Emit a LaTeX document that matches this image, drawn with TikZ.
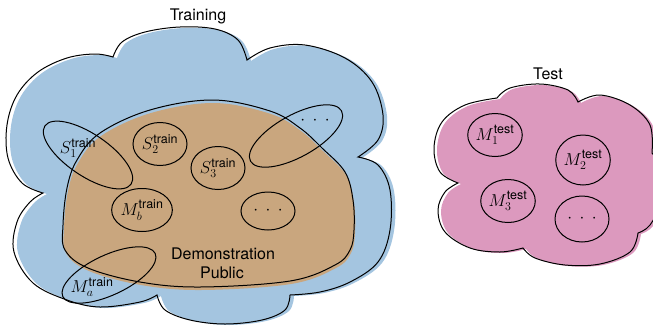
\documentclass[tikz,border=0pt]{standalone}
\usepackage{amsmath}
\usepackage{fontspec}
\setmainfont{TeX Gyre Heros}
\DeclareMathSizes{19}{19}{12.5}{9}
\usetikzlibrary{shapes.geometric}
\definecolor{trainblue}{RGB}{164,197,224}
\definecolor{demotan}{RGB}{201,166,126}
\definecolor{testpink}{RGB}{220,153,190}
\newcommand\TrainCloud{(113,57) -- plot[smooth,tension=0.6] coordinates {(113,57) (122,42) (145,32) (180,27) (215,29) (238,40) (247,60)}
 -- plot[smooth,tension=0.6] coordinates {(247,60) (270,48) (305,45) (345,58) (372,82) (383,115) (378,140) (358,157)}
 -- plot[smooth,tension=0.6] coordinates {(358,157) (378,165) (390,190) (390,230) (378,262) (350,282) (320,292) (290,295)}
 -- plot[smooth,tension=0.6] coordinates {(290,295) (285,310) (262,320) (225,324) (190,320) (165,310) (157,295)}
 -- plot[smooth,tension=0.6] coordinates {(157,295) (140,302) (100,307) (67,300) (33,283) (14,252) (17,222) (30,202) (43,193)}
 -- plot[smooth,tension=0.6] coordinates {(43,193) (22,183) (8,158) (7,125) (17,95) (38,72) (67,58) (95,54) (113,57)} -- cycle}
\newcommand\TestCloud{(458,183) -- plot[smooth,tension=0.6] coordinates {(458,183) (440,172) (434,148) (442,122) (465,105) (497,98)}
 -- plot[smooth,tension=0.6] coordinates {(497,98) (510,88) (540,84) (568,90) (578,102)}
 -- plot[smooth,tension=0.6] coordinates {(578,102) (600,95) (630,105) (650,125) (652,153)}
 -- plot[smooth,tension=0.6] coordinates {(652,153) (662,170) (662,200) (650,225) (638,233)}
 -- plot[smooth,tension=0.6] coordinates {(638,233) (630,252) (600,264) (565,265) (535,258) (523,248)}
 -- plot[smooth,tension=0.6] coordinates {(523,248) (500,252) (470,248) (445,232) (438,210) (445,192) (458,183)} -- cycle}
\newcommand\DomePath{plot[smooth cycle,tension=0.6] coordinates {(63,225) (67,188) (77,160) (100,133) (150,110) (213,100) (270,111) (300,128) (322,148) (345,172) (353,200) (354,230) (350,250) (335,265) (290,281) (200,287) (140,282) (88,268) (65,250)}}
\newcommand\tdots{$\cdot$\hspace{7.5pt}$\cdot$\hspace{7.5pt}$\cdot$}
\begin{document}
\begin{tikzpicture}[x=1pt,y=-1pt,line width=1pt,
  setshape/.style={ellipse,draw,inner sep=0pt,minimum width=54pt,minimum height=43pt,font=\fontsize{19}{22}\selectfont},
  longset/.style={setshape,minimum width=104pt,minimum height=42pt},
  lbl/.style={font=\fontsize{16}{19}\selectfont,inner sep=0pt},
  mlbl/.style={font=\fontsize{19}{22}\selectfont,inner sep=0pt}]
\useasboundingbox (0,0) rectangle (653,325);
\clip (0,0) rectangle (653,325);
% training cloud
\begin{scope}[shift={(4,1)}]
  \fill[trainblue] \TrainCloud;
\end{scope}
\draw \TrainCloud;
% demonstration dome
\begin{scope}[shift={(1,3)}]
  \fill[demotan] \DomePath;
\end{scope}
\draw \DomePath;
% test cloud
\begin{scope}[shift={(3,1)}]
  \fill[testpink] \TestCloud;
\end{scope}
\draw \TestCloud;
% titles
\node[lbl] (train) at (198,16) {Training};
\node[lbl] (test) at (548,74) {Test};
\node[lbl] (demo) at (223,254) {Demonstration};
\node[lbl] (pub) at (222,273) {Public};
% training sets
\node[longset,rotate=-34] (s1) at (88,155) {};
\node[mlbl] (s1l) at (78,148) {$S_1^{\text{train}}$};
\node[setshape] (s2) at (160,144) {$S_2^{\text{train}}$};
\node[setshape] (s3) at (218,168) {$S_3^{\text{train}}$};
\node[setshape] (mb) at (142,210) {$M_b^{\text{train}}$};
\node[setshape,minimum height=38pt] (dl) at (268,211) {\tdots};
\node[longset,rotate=29] (ur) at (296,136) {};
\node[mlbl] (url) at (315,121) {\tdots};
\node[longset,minimum width=102pt,minimum height=40pt,rotate=25] (ma) at (109,275) {};
\node[mlbl] (mal) at (92,287) {$M_a^{\text{train}}$};
% test sets
\node[setshape] (m1) at (495,135) {$M_1^{\text{test}}$};
\node[setshape,minimum height=50pt] (m2) at (583,160) {$M_2^{\text{test}}$};
\node[setshape] (m3) at (508,201) {$M_3^{\text{test}}$};
\node[setshape,minimum height=46pt] (tdl) at (582,219) {\tdots};
\end{tikzpicture}
\end{document}
